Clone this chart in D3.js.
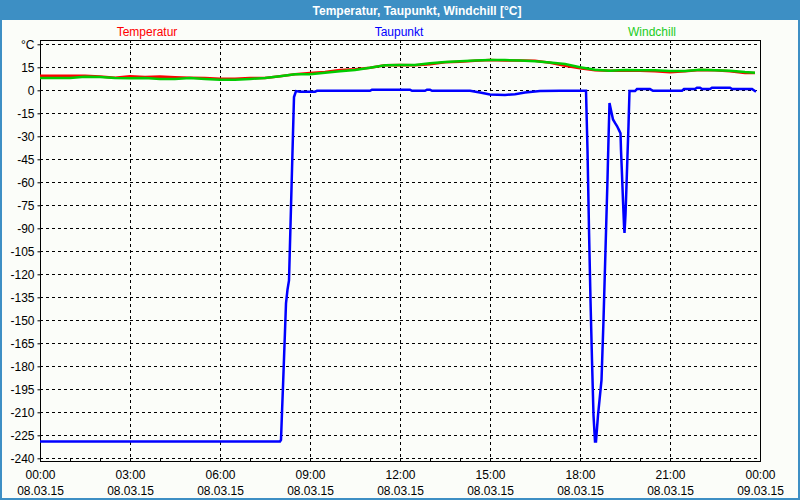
<!DOCTYPE html>
<html>
<head>
<meta charset="utf-8">
<script src="https://cdn.jsdelivr.net/npm/d3@7"></script>
<style>
  body { margin: 0; padding: 0; background: #ffffff; }
  svg { display: block; }
  text { font-family: "Liberation Sans", Arial, sans-serif; }
</style>
</head>
<body>
<svg id="chart" width="800" height="500"></svg>
<script>
// ---------------- DATA ----------------
const chartTitle = "Temperatur, Taupunkt, Windchill [°C]";
const seriesNames = ["Temperatur", "Taupunkt", "Windchill"];
const seriesColors = ["#ff0000", "#0000ff", "#00cc00"];
const dayDate = "2015-03-08";

const yTickValues = [-240, -225, -210, -195, -180, -165, -150, -135, -120, -105, -90, -75, -60, -45, -30, -15, 0, 15, 30];
const yTopLabel = "°C";

// Temperatur & Windchill share the same time grid
const tempTimes = ["00:00","00:30","01:00","01:30","02:00","02:30","03:00","03:30","04:00","04:30",
  "05:00","05:30","06:00","06:30","07:00","07:30","08:00","08:30","09:00","09:30",
  "10:00","10:30","11:00","11:30","12:00","12:30","13:00","13:30","14:00","14:30",
  "15:00","15:30","16:00","16:30","17:00","17:30","18:00","18:30","19:00","19:30",
  "20:00","20:30","21:00","21:30","22:00","22:30","23:00","23:30","23:50"];
const temperatur = [9.5, 9.5, 9.5, 9.5, 9.0, 8.2, 9.1, 8.6, 9.0, 8.5,
  8.2, 8.0, 7.6, 7.6, 8.0, 8.0, 9.1, 10.4, 11.3, 11.9,
  13.2, 13.7, 14.7, 16.3, 16.5, 16.3, 17.0, 18.3, 18.7, 19.3,
  19.7, 19.5, 19.5, 19.2, 18.0, 16.0, 14.3, 13.0, 12.8, 12.8,
  12.8, 12.4, 11.7, 12.4, 13.2, 13.0, 12.4, 11.3, 11.3];
const windchill = [8.0, 8.0, 8.0, 8.9, 8.6, 8.0, 7.8, 8.0, 7.4, 7.4,
  8.0, 7.4, 6.9, 6.9, 7.4, 8.0, 9.1, 10.4, 10.4, 11.5,
  12.4, 13.2, 14.7, 16.3, 16.5, 16.5, 17.6, 18.5, 18.9, 19.5,
  19.7, 19.7, 19.5, 19.0, 18.2, 17.1, 15.0, 13.4, 12.8, 13.2,
  13.0, 13.0, 12.6, 12.6, 13.4, 13.0, 12.8, 11.9, 11.5];

// Taupunkt (own time stamps)
const taupunktTimes = ["00:00","08:00","08:02","08:04","08:06","08:08","08:10","08:12","08:15","08:18",
  "08:20","08:22","08:24","08:26","08:28","08:32","08:40","09:10","09:14","11:00",
  "11:04","12:20","12:24","12:50","12:54","13:00","13:04","14:20","14:40","15:00",
  "15:30","15:50","16:10","16:40","17:20","18:12","18:15","18:18","18:21","18:24",
  "18:27","18:30","18:32","18:36","18:43","18:47","18:51","18:53","18:55","18:57",
  "18:59","19:02","19:04","19:06","19:10","19:14","19:18","19:21","19:22","19:24",
  "19:26","19:28","19:29","19:31","19:33","19:35","19:37","19:39","19:50","19:54",
  "20:20","20:26","21:24","21:28","21:50","21:54","22:00","22:04","22:20","22:24",
  "23:00","23:04","23:44","23:52"];
const taupunkt = [-229, -229, -228, -210, -193, -175, -157, -139, -130, -124,
  -100, -76, -52, -28, -4.4, -0.5, -0.9, -0.9, -0.3, -0.3,
  0.4, 0.4, -0.3, -0.3, 0.4, 0.4, -0.3, -0.3, -1.5, -2.8,
  -3.0, -2.5, -1.5, -0.5, -0.3, -0.3, -39, -91, -137, -176,
  -212, -229, -229, -212, -189, -150, -104, -81, -58, -32,
  -8.3, -13, -16, -19, -21.3, -23.3, -26, -28, -39, -55,
  -72, -88, -93, -81, -62, -42, -23, -0.5, -0.5, 0.8,
  0.8, -0.3, -0.3, 0.8, 0.8, 1.7, 1.7, 0.8, 0.8, 1.7,
  1.7, 0.8, 0.8, -1.0];

// ---------------- CHART ----------------
const W = 800, H = 500;
const plot = { left: 40, right: 760, top: 40, bottom: 461 };
const svg = d3.select("#chart");
const parse = d3.timeParse("%Y-%m-%d %H:%M");
const toDate = t => parse(dayDate + " " + t);

// frame
svg.append("rect").attr("x", 0).attr("y", 0).attr("width", W).attr("height", H).attr("fill", "#3d8fc4");
svg.append("rect").attr("x", 2).attr("y", 20).attr("width", W - 4).attr("height", H - 22).attr("fill", "#fbfdf9");

svg.append("text").attr("x", 417).attr("y", 14.5).attr("text-anchor", "middle")
  .attr("fill", "#ffffff").attr("font-weight", "bold").attr("font-size", "12px").text(chartTitle);

const legendX = [147, 399, 652];
seriesNames.forEach((n, i) => {
  svg.append("text").attr("x", legendX[i]).attr("y", 35.5).attr("text-anchor", "middle")
    .attr("fill", i === 2 ? "#22cc22" : seriesColors[i]).attr("font-size", "12px").text(n);
});

const x = d3.scaleTime()
  .domain([toDate("00:00"), d3.timeDay.offset(toDate("00:00"), 1)])
  .range([plot.left, plot.right]);
const y = d3.scaleLinear().domain([-240, 30]).range([458.3, 44.3]);

// grid
const grid = svg.append("g");
grid.selectAll("line.hg").data(yTickValues).join("line")
  .attr("x1", plot.left).attr("x2", plot.right)
  .attr("y1", d => Math.round(y(d)) + 0.5).attr("y2", d => Math.round(y(d)) + 0.5)
  .attr("stroke", "#000").attr("stroke-width", 1).attr("stroke-dasharray", "3,3");
const majorTicks = x.ticks(d3.timeHour.every(3));
grid.selectAll("line.vg").data(majorTicks.slice(1, -1)).join("line")
  .attr("x1", d => Math.round(x(d)) + 0.5).attr("x2", d => Math.round(x(d)) + 0.5)
  .attr("y1", plot.top).attr("y2", plot.bottom)
  .attr("stroke", "#000").attr("stroke-width", 1).attr("stroke-dasharray", "3,3");

// axes
const yAxis = d3.axisLeft(y).tickValues(yTickValues).tickSize(3).tickPadding(3)
  .tickFormat(d => d === 30 ? yTopLabel : d);
const gy = svg.append("g").attr("transform", `translate(${plot.left + 0.5},0)`).call(yAxis);
gy.select(".domain").remove();
gy.selectAll(".tick line").attr("stroke", "#000");
gy.selectAll(".tick text").attr("font-size", "12px").attr("fill", "#000")
  .attr("font-family", "Liberation Sans, Arial, sans-serif");

const xMinor = d3.axisBottom(x).ticks(d3.timeHour.every(1)).tickSize(3).tickFormat("");
const gxm = svg.append("g").attr("transform", `translate(0,${plot.bottom - 2})`).call(xMinor);
gxm.select(".domain").remove();
gxm.selectAll(".tick line").attr("stroke", "#000");

const fmtT = d3.timeFormat("%H:%M"), fmtD = d3.timeFormat("%d.%m.%y");
const xAxis = d3.axisBottom(x).ticks(d3.timeHour.every(3)).tickSize(0).tickPadding(0).tickFormat("");
const gx = svg.append("g").attr("transform", `translate(0,${plot.bottom})`).call(xAxis);
gx.select(".domain").remove();
gx.selectAll(".tick").each(function(d) {
  const t = d3.select(this).append("text").attr("text-anchor", "middle").attr("fill", "#000")
    .attr("font-size", "12px").attr("font-family", "Liberation Sans, Arial, sans-serif");
  t.append("tspan").attr("x", 0).attr("y", 18).text(fmtT(d));
  t.append("tspan").attr("x", 0).attr("y", 34).text(fmtD(d));
});

// plot border
svg.append("rect").attr("x", plot.left + 0.5).attr("y", plot.top + 0.5)
  .attr("width", plot.right - plot.left).attr("height", plot.bottom - plot.top)
  .attr("fill", "none").attr("stroke", "#000").attr("stroke-width", 1);

// lines
svg.append("clipPath").attr("id", "clip").append("rect")
  .attr("x", plot.left).attr("y", plot.top).attr("width", plot.right - plot.left).attr("height", plot.bottom - plot.top);
const line = d3.line().x(d => x(d.t)).y(d => y(d.v));
const tempData = tempTimes.map((t, i) => ({ t: toDate(t), v: temperatur[i] }));
const windData = tempTimes.map((t, i) => ({ t: toDate(t), v: windchill[i] }));
const tauData = taupunktTimes.map((t, i) => ({ t: toDate(t), v: taupunkt[i] }));
const lg = svg.append("g").attr("clip-path", "url(#clip)");
[[tempData, 0], [tauData, 1], [windData, 2]].forEach(([data, i]) => {
  lg.append("path").datum(data).attr("d", line).attr("fill", "none")
    .attr("stroke", seriesColors[i]).attr("stroke-width", 2.5).attr("stroke-linejoin", "miter");
});
</script>
</body>
</html>
